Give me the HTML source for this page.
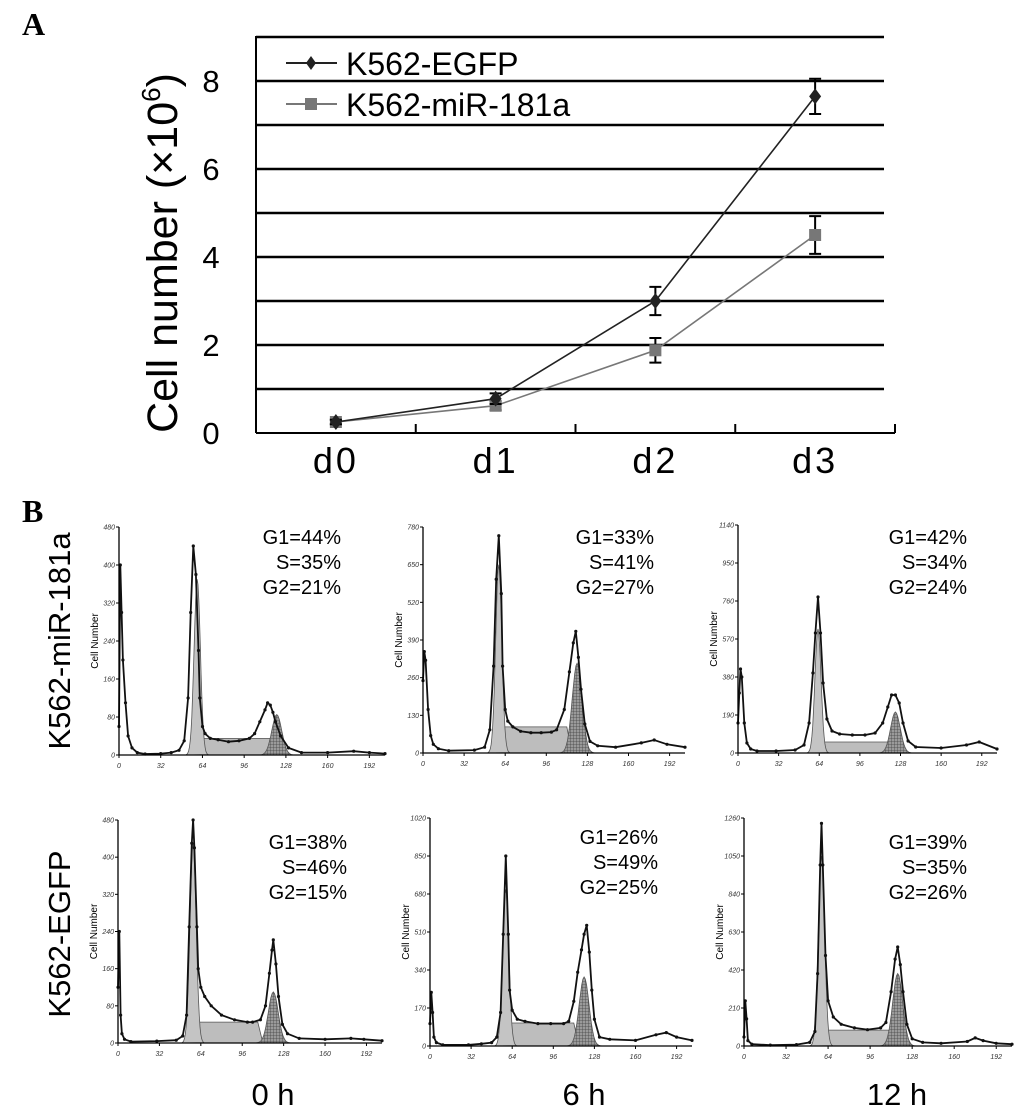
<!DOCTYPE html>
<html><head><meta charset="utf-8"><style>
body{margin:0;background:#fff}
svg{display:block}
text{font-family:"Liberation Sans",sans-serif}
text.serif{font-family:"Liberation Serif",serif}
</style></head><body>
<svg id="fig" width="1033" height="1111" viewBox="0 0 1033 1111" xmlns="http://www.w3.org/2000/svg">
<defs>
<pattern id="hatch" width="3" height="3" patternUnits="userSpaceOnUse">
<rect width="3" height="3" fill="#9a9a9a"/><path d="M0 0H3M0 0V3" stroke="#444" stroke-width="0.8"/>
</pattern>
</defs>
<text class="serif" x="22" y="35" font-weight="bold" font-size="32">A</text>
<text class="serif" x="22" y="522" font-weight="bold" font-size="32">B</text>
<g id="chartA"></g>
<g id="chartB"></g>
</svg>
<script>
const NS="http://www.w3.org/2000/svg";
function mk(parent,tag,attrs,txt){const e=document.createElementNS(NS,tag);for(const k in attrs)e.setAttribute(k,attrs[k]);if(txt!==undefined)e.textContent=txt;parent.appendChild(e);return e;}

/* ---- Panel A data ---- */
const days=["d0","d1","d2","d3"];
const egfpValues=[0.25,0.78,3.0,7.65];
const egfpErrors=[0.05,0.12,0.32,0.4];
const mirValues=[0.25,0.62,1.88,4.5];
const mirErrors=[0.05,0.1,0.28,0.43];
const yTickLabels=[0,2,4,6,8];
const gridValues=[1,2,3,4,5,6,7,8,9];

const A=document.getElementById('chartA');
const aL=256,aR=895,aB=433,pxPerUnit=44;
const yA=v=>aB-v*pxPerUnit;
const bandW=(aR-aL)/days.length;
const xA=i=>aL+(i+0.5)*bandW;

gridValues.forEach(v=>{
  const g=mk(A,'line',{x1:aL,x2:884,y1:yA(v),y2:yA(v),stroke:'#000','stroke-width':2.5});
  
  
});
let ax=mk(A,'line',{x1:aL,x2:aL,y1:yA(9)-1,y2:aB,stroke:'#000','stroke-width':2});


ax=mk(A,'line',{x1:aL,x2:aR,y1:aB,y2:aB,stroke:'#000','stroke-width':2});


for(let i=1;i<=days.length;i++){
  const t=mk(A,'line',{x1:aL+i*bandW,x2:aL+i*bandW,y1:aB,y2:aB-9,stroke:'#000','stroke-width':2});
  
  
}
yTickLabels.forEach(v=>{
  const t=mk(A,'text',{x:211,y:yA(v)+11,'font-size':31,'text-anchor':'middle'},String(v));
  
  
});
days.forEach((d,i)=>{
  const t=mk(A,'text',{x:xA(i),y:473,'font-size':36,'text-anchor':'middle','letter-spacing':'3'},d);
  
  
});
const yt=mk(A,'text',{transform:'translate(177,253) rotate(-90)','font-size':43,'text-anchor':'middle'});


yt.appendChild(document.createTextNode('Cell number (×10'));
mk(yt,'tspan',{'font-size':26,dy:-17},'6');
mk(yt,'tspan',{dy:17},')');

function series(vals,errs,color,marker,name){
  const g=mk(A,'g',{});
  
  
  const pts=vals.map((v,i)=>xA(i)+','+yA(v)).join(' ');
  mk(g,'polyline',{points:pts,fill:'none',stroke:color,'stroke-width':1.6});
  vals.forEach((v,i)=>{
    const x=xA(i),t=yA(v+errs[i]),b=yA(v-errs[i]);
    const e=mk(g,'path',{d:`M${x} ${t}V${b}M${x-6} ${t}H${x+6}M${x-6} ${b}H${x+6}`,stroke:'#000','stroke-width':2,fill:'none'});
    
    
    let m;
    if(marker==='diamond') m=mk(g,'path',{d:`M${x} ${yA(v)-8}L${x+6} ${yA(v)}L${x} ${yA(v)+8}L${x-6} ${yA(v)}Z`,fill:color});
    else m=mk(g,'rect',{x:x-6,y:yA(v)-6,width:12,height:12,fill:color});
    
    
  });
}
series(mirValues,mirErrors,'#777','square','series-k562-mir181a');
series(egfpValues,egfpErrors,'#222','diamond','series-k562-egfp');

const lg=mk(A,'g',{});


mk(lg,'line',{x1:286,x2:337,y1:63,y2:63,stroke:'#222','stroke-width':2});
mk(lg,'path',{d:'M311 56L316 63L311 70L306 63Z',fill:'#222'});
let lt=mk(lg,'text',{x:346,y:75,'font-size':32},'K562-EGFP');


mk(lg,'line',{x1:286,x2:337,y1:104,y2:104,stroke:'#777','stroke-width':2});
mk(lg,'rect',{x:305,y:98,width:12,height:12,fill:'#777'});
lt=mk(lg,'text',{x:346,y:116,'font-size':32},'K562-miR-181a');



/* ---- Panel B data ---- */
const xTickValues=[0,32,64,96,128,160,192];
const p1Ch=[0,1,2,3,5,7,10,14,20,32,40,46,50,53,55,57,59,61,62,64,66,70,76,84,92,100,104,108,112,114,116,118,120,124,130,140,160,180,192,204];
const p1Ct=[60,400,300,200,110,40,15,5,2,3,5,10,30,120,300,440,380,220,120,60,45,35,32,28,30,35,45,70,95,110,105,90,70,40,15,5,5,8,5,3];
const p2Ch=[0,1,2,4,6,8,12,20,40,48,52,55,57,59,61,62,64,66,70,76,84,92,100,104,110,114,117,119,121,123,126,130,136,150,170,180,190,204];
const p2Ct=[250,350,320,150,60,30,15,8,10,20,80,300,600,750,550,300,150,110,90,75,70,70,72,80,150,280,380,420,330,220,100,40,25,20,35,45,30,20];
const p3Ch=[0,1,2,3,5,7,10,15,30,45,52,56,59,61,63,65,67,70,74,80,90,100,108,114,118,121,124,127,130,134,140,160,180,190,204];
const p3Ct=[150,300,420,380,150,50,20,10,10,15,40,150,400,600,780,600,350,170,110,95,90,90,100,150,230,290,290,250,150,60,30,25,40,55,20];
const p4Ch=[0,1,2,3,5,10,30,45,50,53,55,57,58,59,61,62,64,67,72,80,90,100,104,110,114,117,119,120,122,124,127,131,140,160,180,190,204];
const p4Ct=[120,240,60,20,8,3,4,6,15,60,250,430,480,420,250,160,120,100,80,60,50,45,45,50,80,150,200,222,170,100,40,20,10,8,10,8,5];
const p5Ch=[0,1,2,3,5,10,30,40,48,52,55,57,59,61,62,64,68,74,84,94,104,108,112,115,118,120,122,124,126,128,132,140,160,176,184,192,204];
const p5Ct=[100,240,150,40,15,5,5,10,15,40,150,500,850,500,250,160,120,110,100,100,100,110,200,330,430,500,540,420,250,120,40,30,25,50,60,40,25];
const p6Ch=[0,1,2,3,6,20,40,50,54,56,58,59,60,62,64,68,74,84,94,104,108,112,115,117,119,121,124,128,136,150,170,176,182,192,204];
const p6Ct=[50,250,150,30,10,5,8,20,80,400,1000,1230,1000,500,250,160,120,100,90,100,130,300,480,547,450,300,120,40,20,15,25,45,30,15,10];
const yMaxes=[480,780,1140,480,1020,1260];
const g1Pct=["44","33","42","38","26","39"];
const sPct=["35","41","34","46","49","35"];
const g2Pct=["21","27","24","15","25","26"];
/* fitted model components: [G1 channel, G1 height, S start, S end, S height, G2 channel, G2 height] */
const fit1=[60,370,58,116,35,121,85];
const fit2=[59,650,60,112,90,120,310];
const fit3=[63,620,66,118,55,124,205];
const fit4=[58,430,56,108,45,120,110];
const fit5=[59,700,60,112,103,120,309];
const fit6=[59,1050,62,110,88,117,400];

const boxes=[{l:119,r:385,t:527,b:755,lx:257,ty:528},{l:423,r:685,t:527,b:753,lx:570,ty:528},{l:738,r:997,t:525,b:753,lx:883,ty:528},
{l:118,r:382,t:820,b:1043,lx:263,ty:833},{l:430,r:692,t:818,b:1046,lx:574,ty:828},{l:744,r:1012,t:818,b:1046,lx:883,ty:833}];
const chans=[p1Ch,p2Ch,p3Ch,p4Ch,p5Ch,p6Ch];
const counts=[p1Ct,p2Ct,p3Ct,p4Ct,p5Ct,p6Ct];
const fits=[fit1,fit2,fit3,fit4,fit5,fit6];
const B=document.getElementById('chartB');
const fmt=v=>v.toFixed(1);

boxes.forEach((bx,k)=>{
  const g=mk(B,'g',{});
  
  
  const pxc=(bx.r-bx.l)/204;
  const X=c=>bx.l+c*pxc;
  const Y=v=>bx.b-v/yMaxes[k]*(bx.b-bx.t);
  const f=fits[k];
  const s=mk(g,'path',{d:`M${fmt(X(f[2]-4))} ${bx.b}L${fmt(X(f[2]))} ${fmt(Y(f[4]))}L${fmt(X(f[3]))} ${fmt(Y(f[4]))}L${fmt(X(f[3]+4))} ${bx.b}Z`,fill:'#bdbdbd',stroke:'#555','stroke-width':0.8});
  
  
  function gauss(c0,h,sd,fill,name){
    let d=`M${fmt(X(c0-3.5*sd))} ${bx.b}`;
    for(let c=c0-3.5*sd;c<=c0+3.5*sd+0.01;c+=sd/4){d+=`L${fmt(X(c))} ${fmt(Y(h*Math.exp(-((c-c0)**2)/(2*sd*sd))))}`;}
    d+='Z';
    const p=mk(g,'path',{d,fill,stroke:'#555','stroke-width':0.8});
    
    
  }
  gauss(f[0],f[1],2.4,'#c4c4c4','g1-fit');
  gauss(f[5],f[6],3.8,'url(#hatch)','g2-fit');
  const ch=chans[k],ct=counts[k];
  const pts=ch.map((c,i)=>fmt(X(c))+','+fmt(Y(ct[i]))).join(' ');
  const pl=mk(g,'polyline',{points:pts,fill:'none',stroke:'#111','stroke-width':1.8});
  
  
  ch.forEach((c,i)=>{mk(g,'circle',{cx:fmt(X(c)),cy:fmt(Y(ct[i])),r:1.6,fill:'#111'});});
  mk(g,'path',{d:`M${bx.l} ${bx.t}V${bx.b}H${bx.r}`,fill:'none',stroke:'#000','stroke-width':1.3});
  xTickValues.forEach(v=>{
    mk(g,'line',{x1:X(v),x2:X(v),y1:bx.b,y2:bx.b+3,stroke:'#000','stroke-width':1});
    const t=mk(g,'text',{x:X(v),y:bx.b+13,'font-size':7,'font-style':'italic','text-anchor':'middle',fill:'#333'},String(v));
    
    
  });
  for(let i=0;i<=6;i++){
    const v=yMaxes[k]/6*i;
    mk(g,'line',{x1:bx.l-3,x2:bx.l,y1:Y(v),y2:Y(v),stroke:'#000','stroke-width':1});
    const t=mk(g,'text',{x:bx.l-4,y:Y(v)+2.5,'font-size':7,'font-style':'italic','text-anchor':'end',fill:'#333'},String(Math.round(v)));
    
    
  }
  const yl=mk(g,'text',{transform:`translate(${bx.l-21},${(bx.t+bx.b)/2}) rotate(-90)`,'font-size':10,'text-anchor':'middle'},'Cell Number');
  
  
  const rx=bx.lx+84;
  const t1=mk(g,'text',{x:rx,y:bx.ty+16,'font-size':20,'text-anchor':'end'},'G1='+g1Pct[k]+'%');
  
  
  const t2=mk(g,'text',{x:rx,y:bx.ty+41,'font-size':20,'text-anchor':'end'},'S='+sPct[k]+'%');
  
  
  const t3=mk(g,'text',{x:rx,y:bx.ty+66,'font-size':20,'text-anchor':'end'},'G2='+g2Pct[k]+'%');
  
  
});
</script>
<div style="position:absolute;left:0;top:0;width:1033px;height:1111px;pointer-events:none">
<svg width="1033" height="1111" style="position:absolute;left:0;top:0">
<text transform="translate(70,641) rotate(-90)" font-size="31" text-anchor="middle">K562-miR-181a</text>
<text transform="translate(70,934) rotate(-90)" font-size="31" text-anchor="middle">K562-EGFP</text>
<text x="273" y="1105" font-size="31" text-anchor="middle">0 h</text>
<text x="584" y="1105" font-size="31" text-anchor="middle">6 h</text>
<text x="897" y="1105" font-size="31" text-anchor="middle">12 h</text>
</svg></div>
</body></html>
